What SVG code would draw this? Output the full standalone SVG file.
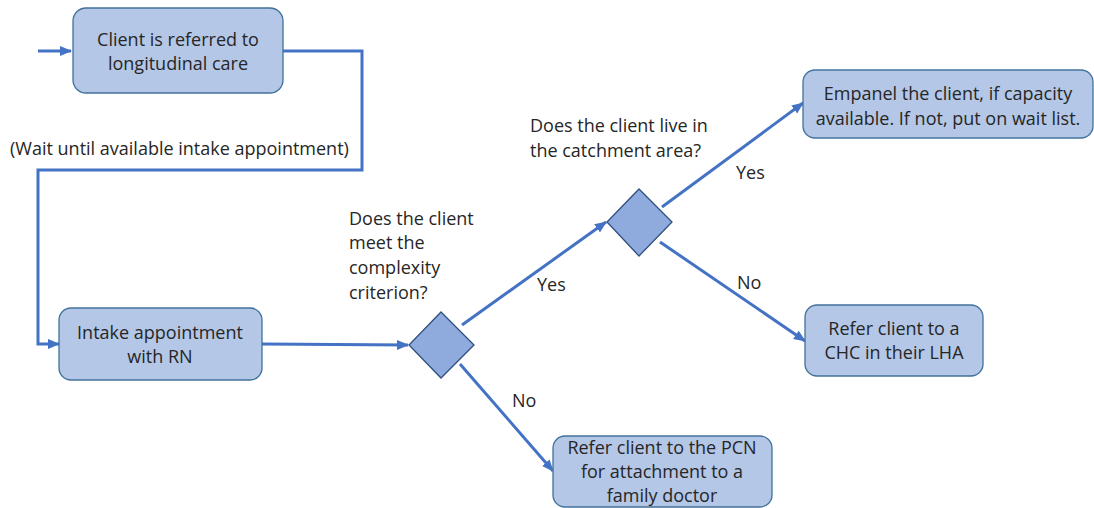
<svg xmlns="http://www.w3.org/2000/svg" width="1094" height="508" viewBox="0 0 1094 508">
  <style>
    .box { fill: #b4c7e7; stroke: #41719c; stroke-width: 1.3; }
    .dia { fill: #8faadc; stroke: #2f4f7f; stroke-width: 1.3; }
    .edge { fill: none; stroke: #4472c4; stroke-width: 3; }
    text { font-family: "Open Sans", "Liberation Sans", Arial, sans-serif; font-size: 18px; fill: #262626; }
    .c { text-anchor: middle; }
  </style>
  <defs>
    <marker id="arrow" markerUnits="userSpaceOnUse" markerWidth="12" markerHeight="12" viewBox="0 0 12 12" refX="11" refY="6" orient="auto">
      <path d="M0,1 L12,6 L0,11 Z" fill="#4472c4"/>
    </marker>
  </defs>

  <rect width="1094" height="508" fill="#ffffff"/>

  <!-- connectors -->
  <g id="connectors">
    <line class="edge" x1="38" y1="51" x2="71" y2="51" marker-end="url(#arrow)"/>
    <polyline class="edge" points="283,51 362,51 362,170 38,170 38,344 59,344" marker-end="url(#arrow)"/>
    <line class="edge" x1="262" y1="344" x2="408" y2="345" marker-end="url(#arrow)"/>
    <line class="edge" x1="462" y1="325" x2="606" y2="222" marker-end="url(#arrow)"/>
    <line class="edge" x1="662" y1="207" x2="803" y2="103" marker-end="url(#arrow)"/>
    <line class="edge" x1="660" y1="242" x2="805" y2="341" marker-end="url(#arrow)"/>
    <line class="edge" x1="460" y1="364" x2="553" y2="471" marker-end="url(#arrow)"/>
  </g>

  <!-- edge labels -->
  <g id="labels">
    <text x="10" y="155">(Wait until available intake appointment)</text>
    <text x="537" y="291">Yes</text>
    <text x="512" y="407">No</text>
    <text x="736" y="179">Yes</text>
    <text x="737" y="289">No</text>
  </g>

  <!-- nodes -->
  <g id="referred">
    <rect class="box" x="73" y="8" width="210" height="85" rx="13"/>
    <text class="c" x="178" y="46">Client is referred to</text>
    <text class="c" x="178" y="70">longitudinal care</text>
  </g>

  <g id="intake">
    <rect class="box" x="59" y="308" width="203" height="72" rx="12"/>
    <text class="c" x="160" y="339">Intake appointment</text>
    <text class="c" x="160" y="363">with RN</text>
  </g>

  <g id="complexity">
    <polygon class="dia" points="441,312 474,345 441,378 409,345"/>
    <text x="349" y="225">Does the client</text>
    <text x="349" y="249">meet the</text>
    <text x="349" y="274">complexity</text>
    <text x="349" y="299">criterion?</text>
  </g>

  <g id="catchment">
    <polygon class="dia" points="639,189 672,222 639,256 607,222"/>
    <text x="530" y="132">Does the client live in</text>
    <text x="530" y="157">the catchment area?</text>
  </g>

  <g id="empanel">
    <rect class="box" x="803" y="70" width="290" height="68" rx="12"/>
    <text class="c" x="948" y="100">Empanel the client, if capacity</text>
    <text class="c" x="948" y="125">available. If not, put on wait list.</text>
  </g>

  <g id="chc">
    <rect class="box" x="805" y="305" width="178" height="71" rx="12"/>
    <text class="c" x="894" y="335">Refer client to a</text>
    <text class="c" x="894" y="359">CHC in their LHA</text>
  </g>

  <g id="pcn">
    <rect class="box" x="553" y="436" width="219" height="71" rx="12"/>
    <text class="c" x="662" y="454">Refer client to the PCN</text>
    <text class="c" x="662" y="478">for attachment to a</text>
    <text class="c" x="662" y="502">family doctor</text>
  </g>
</svg>
